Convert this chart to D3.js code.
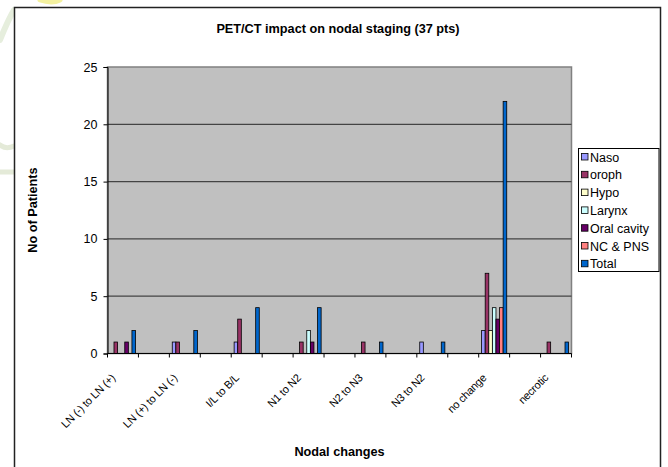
<!DOCTYPE html>
<html><head><meta charset="utf-8">
<script src="https://cdn.jsdelivr.net/npm/d3@7"></script>
<style>
html,body{margin:0;padding:0;background:#fff;}
svg{display:block;font-family:"Liberation Sans",Arial,sans-serif;}
svg text{font-family:"Liberation Sans",Arial,sans-serif;}
</style></head>
<body><svg id="c" width="668" height="467"></svg>
<script>
const categories = ["LN (-) to LN (+)", "", "LN (+) to LN (-)", "", "I/L to B/L", "", "N1 to N2", "", "N2 to N3", "", "N3 to N2", "", "no change", "", "necrotic"];
const seriesNames = ["Naso", "oroph", "Hypo", "Larynx", "Oral cavity", "NC & PNS", "Total"];
const seriesColors = ["#9999FF", "#993366", "#FFFFCC", "#CCFFFF", "#660066", "#FF8080", "#0066CC"];
const naso       = [0,0,1,0,1,0,0,0,0,0,1,0,2,0,0];
const oroph      = [1,0,1,0,3,0,1,0,1,0,0,0,7,0,1];
const hypo       = [0,0,0,0,0,0,0,0,0,0,0,0,2,0,0];
const larynx     = [0,0,0,0,0,0,2,0,0,0,0,0,4,0,0];
const oralCavity = [1,0,0,0,0,0,1,0,0,0,0,0,3,0,0];
const ncPns      = [0,0,0,0,0,0,0,0,0,0,0,0,4,0,0];
const total      = [2,0,2,0,4,0,4,0,1,0,1,0,22,0,1];
const yTicks = [0,5,10,15,20,25];
const seriesValues = [naso, oroph, hypo, larynx, oralCavity, ncPns, total];

const svg = d3.select("#c");
// faint background watermark outside the chart frame
const wm = svg.append("g").attr("fill","none").attr("stroke-linecap","round");
wm.append("path").attr("d","M40,0 Q52,4 60,0").attr("stroke","#f4f1a0").attr("stroke-width",5);
wm.append("path").attr("d","M0,40 Q8,20 14,10").attr("stroke","#e6eedd").attr("stroke-width",6);
wm.append("path").attr("d","M0,145 Q6,150 14,146").attr("stroke","#e4ead8").attr("stroke-width",5);
wm.append("path").attr("d","M0,172 L14,172").attr("stroke","#e4ead8").attr("stroke-width",5);

// chart frame
svg.append("rect").attr("x",14.5).attr("y",7.5).attr("width",646).attr("height",470)
  .attr("fill","#fff").attr("stroke","#222").attr("stroke-width",1.5);

const L=107.5, R=571.5, T=67, B=353.5;
const x = d3.scaleBand().domain(d3.range(categories.length)).range([L,R]).padding(0);
const y = d3.scaleLinear().domain([0,25]).range([B,T]);
const xs = d3.scaleBand().domain(d3.range(seriesNames.length))
  .range([2.9, x.bandwidth()-2.9]).padding(0);

// plot area
svg.append("rect").attr("x",L).attr("y",T).attr("width",R-L).attr("height",B-T)
  .attr("fill","#C0C0C0").attr("stroke","#808080").attr("stroke-width",1.5);

// gridlines
svg.append("g").selectAll("line").data(yTicks.filter(d=>d>0&&d<25)).join("line")
  .attr("x1",L).attr("x2",R).attr("y1",d=>y(d)).attr("y2",d=>y(d))
  .attr("stroke","#444").attr("stroke-width",1.3);

// bars
const barG = svg.append("g");
seriesValues.forEach((vals,si)=>{
  barG.append("g").selectAll("rect").data(vals.map((v,i)=>({v,i})).filter(d=>d.v>0)).join("rect")
    .attr("x",d=>x(d.i)+xs(si))
    .attr("y",d=>y(d.v))
    .attr("width",xs.bandwidth())
    .attr("height",d=>y(0)-y(d.v))
    .attr("fill",seriesColors[si]).attr("stroke","#000").attr("stroke-width",0.8);
});

// y axis
const yAxis = d3.axisLeft(y).tickValues(yTicks).tickSize(4).tickPadding(6);
const gy = svg.append("g").attr("transform",`translate(${L},0)`).call(yAxis);
gy.select(".domain").attr("stroke","#000");
gy.selectAll(".tick line").attr("stroke","#000");
gy.selectAll("text").attr("font-size",12.5).attr("fill","#000").attr("font-family",null);
gy.attr("font-family",null);

// x axis (ticks at category boundaries)
svg.append("line").attr("x1",L).attr("x2",R).attr("y1",B).attr("y2",B).attr("stroke","#000");
svg.append("g").selectAll("line").data(d3.range(categories.length+1)).join("line")
  .attr("x1",d=>L+d*x.bandwidth()).attr("x2",d=>L+d*x.bandwidth())
  .attr("y1",B).attr("y2",B+4).attr("stroke","#000");

// category labels
svg.append("g").selectAll("text").data(categories.map((c,i)=>({c,i})).filter(d=>d.c!=="")).join("text")
  .attr("transform",d=>`translate(${x(d.i)+x.bandwidth()/2-7},${B+25}) rotate(-45)`)
  .attr("text-anchor","end")
  .attr("font-size",11).attr("letter-spacing",-0.2).attr("fill","#000")
  .text(d=>d.c);

// titles
svg.append("text").attr("x",338).attr("y",33).attr("text-anchor","middle")
  .attr("font-size",12.7).attr("font-weight","bold").text("PET/CT impact on nodal staging (37 pts)");
svg.append("text").attr("x",339.5).attr("y",456).attr("text-anchor","middle")
  .attr("font-size",12.7).attr("font-weight","bold").text("Nodal changes");
svg.append("text").attr("transform",`translate(37,210) rotate(-90)`).attr("text-anchor","middle")
  .attr("font-size",12.7).attr("font-weight","bold").text("No of Patients");

// legend
const lg = svg.append("g");
lg.append("rect").attr("x",578.5).attr("y",148.5).attr("width",80.5).attr("height",123)
  .attr("fill","#fff").attr("stroke","#000").attr("stroke-width",1);
seriesNames.forEach((n,i)=>{
  const yy = 157 + i*17.8;
  lg.append("rect").attr("x",581.5).attr("y",yy-3.5).attr("width",6.5).attr("height",6.5)
    .attr("fill",seriesColors[i]).attr("stroke","#000").attr("stroke-width",0.8);
  lg.append("text").attr("x",590).attr("y",yy+4.5).attr("font-size",12.5).text(n);
});
</script></body></html>
